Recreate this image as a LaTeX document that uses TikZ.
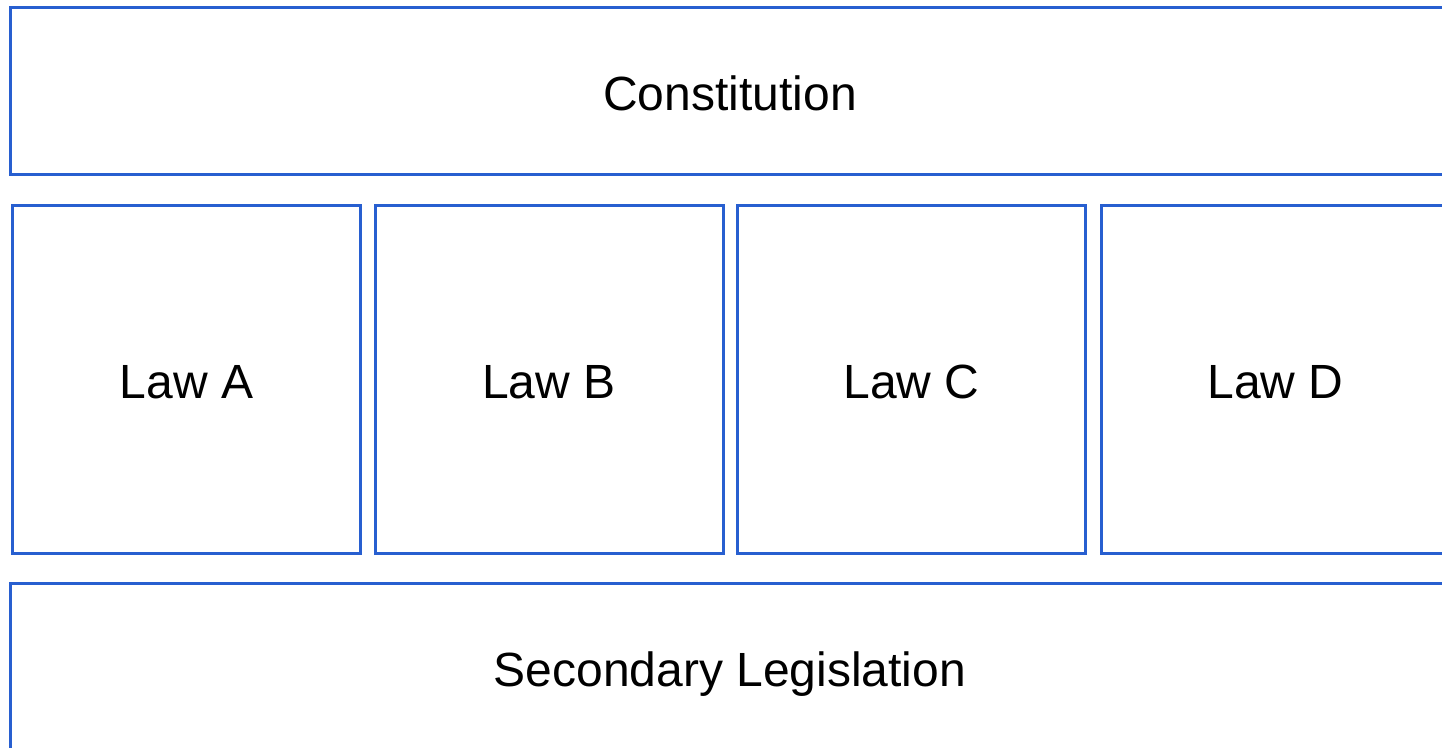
\documentclass[tikz,border=0pt]{standalone}
\usepackage{fontspec}
\setmainfont{Liberation Sans}
\usepackage{tikz}
\usetikzlibrary{positioning}
\definecolor{lawblue}{RGB}{40,95,208}

\begin{document}
\begin{tikzpicture}[x=.5pt, y=-.5pt, font=\fontsize{24}{28}\selectfont,
  level/.style={draw=lawblue, line width=1.5pt, rectangle, inner sep=0pt,
    text height=19.2pt, text depth=0pt,
    minimum width=720pt, minimum height=83.5pt},
  law/.style={draw=lawblue, line width=1.5pt, rectangle, inner sep=0pt,
    text height=19.2pt, text depth=0pt,
    minimum width=174pt, minimum height=174pt}]
\useasboundingbox (0,0) rectangle (1442,748);

\node [level] (constitution) at (730,91) {Constitution};

\node [law] (lawA) at (186.5,379.5) {Law A};
\node [law] (lawB) at (549,379.5) {Law B};
\node [law] (lawC) at (911.5,379.5) {Law C};
\node [law] (lawD) at (1275.5,379.5) {Law D};

\node [level] (secondary) at (730,667) {Secondary Legislation};
\end{tikzpicture}
\end{document}
